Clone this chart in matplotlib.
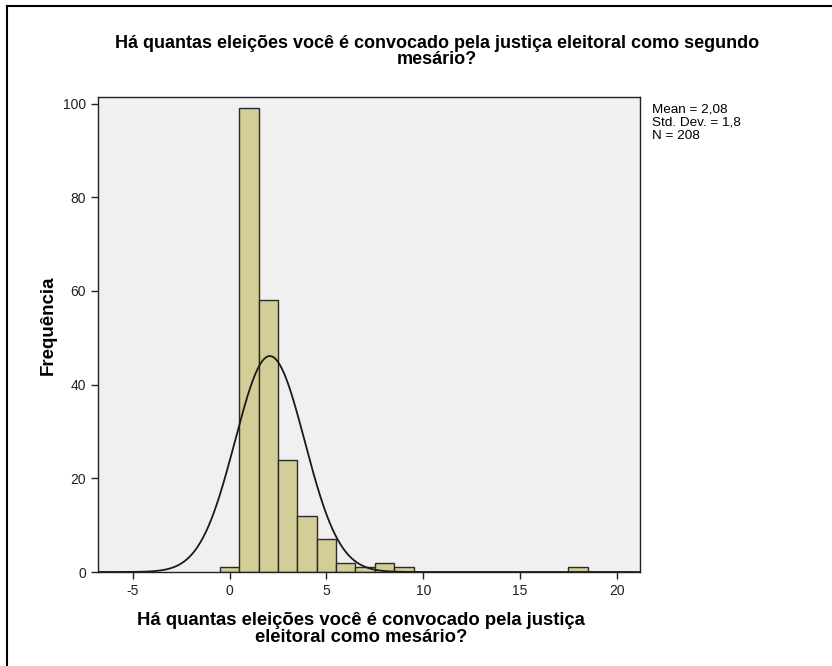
import numpy as np
import matplotlib.pyplot as plt

# Frequency table (bin width 1, centered on integers)
values = [0, 1, 2, 3, 4, 5, 6, 7, 8, 9, 18]
counts = [1, 99, 58, 24, 12, 7, 2, 1, 2, 1, 1]

title = "Há quantas eleições você é convocado pela justiça eleitoral como segundo\nmesário?"
xlabel = "Há quantas eleições você é convocado pela justiça\neleitoral como mesário?"
ylabel = "Frequência"

plt.rcParams['font.family'] = ['Liberation Sans', 'DejaVu Sans']
plt.rcParams['axes.unicode_minus'] = False

vals = np.repeat(values, counts)
n = len(vals)
mean = vals.mean()
sd = vals.std(ddof=1)

fig = plt.figure(figsize=(8.32, 6.66), dpi=100)
ax = fig.add_axes([98/832, 1 - 572/666, (640 - 98)/832, (572 - 97)/666])
ax.set_facecolor('#f0f0f0')

ax.bar(values, counts, width=1.0, color='#d3ce97', edgecolor='#2a2a2a', linewidth=1.0, zorder=2)

xs = np.linspace(-6.8, 21.2, 600)
ys = n * np.exp(-0.5 * ((xs - mean) / sd) ** 2) / (sd * np.sqrt(2 * np.pi))
ax.plot(xs, ys, color='#1a1a1a', linewidth=1.3, zorder=3)

ax.set_xlim(-6.8, 21.2)
ax.set_ylim(0, 101.4)
ax.set_xticks([-5, 0, 5, 10, 15, 20])
ax.set_yticks([0, 20, 40, 60, 80, 100])
ax.tick_params(direction='out', length=5, width=1, labelsize=10, colors='#222222')
for s in ax.spines.values():
    s.set_color('#222222')
    s.set_linewidth(1)

ax.set_xlabel(xlabel, fontsize=13.3, fontweight='bold', linespacing=0.95)
ax.xaxis.set_label_coords(0.485, -0.085)
ax.set_ylabel(ylabel, fontsize=13.5, fontweight='bold')
ax.yaxis.set_label_coords(-0.076, 0.52)
fig.text(0.525, 0.898, title, ha='center', va='bottom', fontsize=13,
         fontweight='bold', linespacing=0.95)

stats = "Mean = {:.2f}\nStd. Dev. = {:.1f}\nN = {}".format(mean, sd, n).replace('.', ',', 1)
stats = stats.replace('= 1.8', '= 1,8')
fig.text(652/832, 1 - 104/666, stats, ha='left', va='top', fontsize=9.7, linespacing=1.1)

# outer chart frame (left and top edges)
fig.add_artist(plt.Line2D([7/832, 7/832], [0, 1 - 6/666], color='black', linewidth=1.5, transform=fig.transFigure))
fig.add_artist(plt.Line2D([7/832, 1], [1 - 6/666, 1 - 6/666], color='black', linewidth=1.5, transform=fig.transFigure))

fig.savefig('out.png', dpi=100, facecolor='white')
